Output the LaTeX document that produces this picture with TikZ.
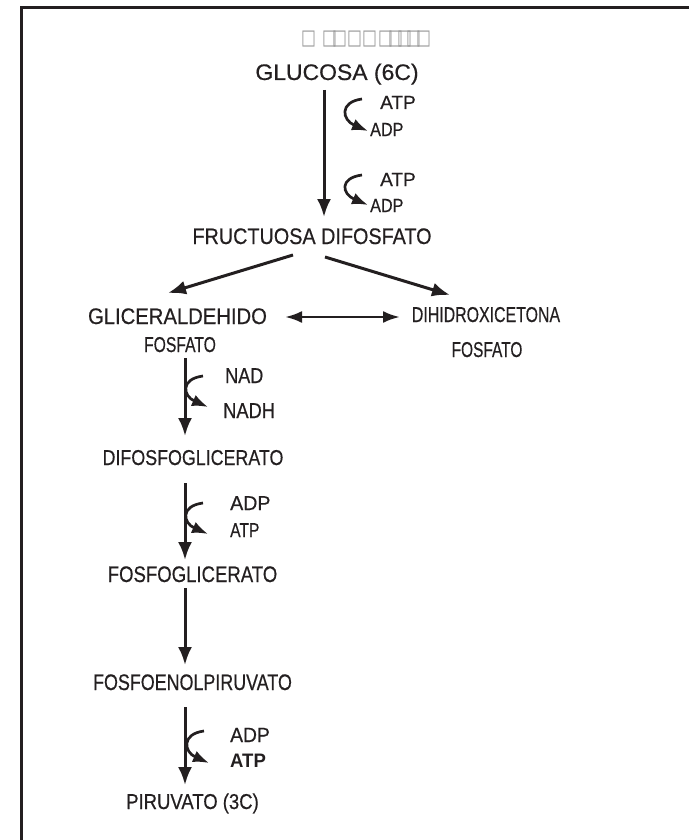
\documentclass[tikz,border=0pt]{standalone}
\usepackage{fontspec}
\setmainfont{Liberation Sans}
\newfontfamily\hv[FakeBold=0.5]{Liberation Sans}
\newfontfamily\symf{DejaVu Sans}
\usepackage{graphicx}
\usetikzlibrary{arrows.meta}
\definecolor{ink}{HTML}{231F20}
\newcommand\lb[3]{\scalebox{#1}[1]{\hv\fontsize{#2pt}{#2pt}\selectfont #3}}
\newcommand\lbb[3]{\scalebox{#1}[1]{\fontsize{#2pt}{#2pt}\selectfont\bfseries #3}}
\newcommand\tfb[1]{\rlap{\scalebox{0.75}[1]{□}}\kern#1pt}
\begin{document}
\begin{tikzpicture}[x=1pt,y=1pt,
  lab/.style={anchor=base, inner sep=0pt, text=ink},
  labw/.style={anchor=base west, inner sep=0pt, text=ink},
  flow/.style={draw=ink, line width=3pt, -{Latex[length=18pt,width=14pt]}},
  twoway/.style={draw=ink, line width=2.8pt, {Latex[length=17pt,width=12pt]}-{Latex[length=17pt,width=12pt]}},
  cofac/.style={draw=ink, line width=2.7pt, -{Latex[length=16pt,width=12pt]}}]
\useasboundingbox (0,0) rectangle (688,-840);
% frame (only top and left edges visible)
\draw[draw=ink, line width=3pt] (21.5,-845) -- (21.5,-8) -- (695,-8);
% title (missing glyphs)
\node[anchor=base west, inner sep=0pt, text=black!40] (title) at (301,-45)
  {\symf\fontsize{21pt}{21pt}\selectfont\tfb{21}\tfb{10}\tfb{15}\tfb{15}\tfb{16}\tfb{10}\tfb{9}\tfb{9}\tfb{10}\tfb{10}};
% main labels
\node[lab] (glu)  at (337,-80)  {\lb{1.02}{22.5}{GLUCOSA (6C)}};
\node[lab] (fru)  at (312,-244) {\lb{0.88}{22.5}{FRUCTUOSA DIFOSFATO}};
\node[lab] (gli)  at (177.5,-324) {\lb{0.9}{22.5}{GLICERALDEHIDO}};
\node[lab] (glif) at (180,-352) {\lb{0.73}{21.5}{FOSFATO}};
\node[lab] (dih)  at (486,-322) {\lb{0.74}{21.5}{DIHIDROXICETONA}};
\node[lab] (dihf) at (487,-357) {\lb{0.72}{21.5}{FOSFATO}};
\node[lab] (dif)  at (193,-465) {\lb{0.83}{21.5}{DIFOSFOGLICERATO}};
\node[lab] (fgl)  at (192.5,-582) {\lb{0.825}{22.5}{FOSFOGLICERATO}};
\node[lab] (fep)  at (192.5,-690) {\lb{0.795}{22.5}{FOSFOENOLPIRUVATO}};
\node[lab] (pir)  at (192.5,-809) {\lb{0.86}{21.5}{PIRUVATO (3C)}};
% cofactor labels
\node[labw] (atp1) at (380,-109) {\lb{1.0}{19}{ATP}};
\node[labw] (adp1) at (370,-136) {\lb{0.85}{19}{ADP}};
\node[labw] (atp2) at (380,-186) {\lb{1.0}{19}{ATP}};
\node[labw] (adp2) at (370,-212) {\lb{0.85}{19}{ADP}};
\node[labw] (nad)  at (225,-383) {\lb{0.84}{21.5}{NAD}};
\node[labw] (nadh) at (223,-418) {\lb{0.85}{21.5}{NADH}};
\node[labw] (adp3) at (230,-510) {\lb{0.98}{20}{ADP}};
\node[labw] (atp3) at (230,-537) {\lb{0.78}{20}{ATP}};
\node[labw] (adp4) at (230,-742) {\lb{0.94}{20.5}{ADP}};
\node[labw] (atp4) at (230,-767) {\lbb{0.95}{19.5}{ATP}};
% arrow end points
\coordinate (g1) at (324,-90);   \coordinate (g2) at (324,-217);
\coordinate (fL) at (293,-255);  \coordinate (tL) at (168,-293);
\coordinate (fR) at (325,-257);  \coordinate (tR) at (450,-295);
\coordinate (dL) at (285,-317);  \coordinate (dR) at (400,-317);
\coordinate (a1) at (185,-358);  \coordinate (a2) at (185,-436);
\coordinate (b1) at (185,-483);  \coordinate (b2) at (185,-560);
\coordinate (c1) at (185,-588);  \coordinate (c2) at (185,-665);
\coordinate (e1) at (185,-707);  \coordinate (e2) at (185,-785);
% main arrows
\draw[flow] (g1) -- (g2);
\draw[flow] (fL) -- (tL);
\draw[flow] (fR) -- (tR);
\draw[twoway] (dL) -- (dR);
\draw[flow] (a1) -- (a2);
\draw[flow] (b1) -- (b2);
\draw[flow] (c1) -- (c2);
\draw[flow] (e1) -- (e2);
% cofactor curved arrows
\draw[cofac] (362,-99) .. controls (339,-102) and (342,-120) .. (368,-131);
\draw[cofac] (362,-175) .. controls (339,-178) and (342,-194) .. (368,-205);
\draw[cofac] (203,-376) .. controls (180,-379) and (183,-396) .. (208,-407);
\draw[cofac] (203,-503) .. controls (180,-506) and (183,-523) .. (208,-534);
\draw[cofac] (204,-731) .. controls (181,-734) and (184,-752) .. (209,-763);
\end{tikzpicture}
\end{document}
